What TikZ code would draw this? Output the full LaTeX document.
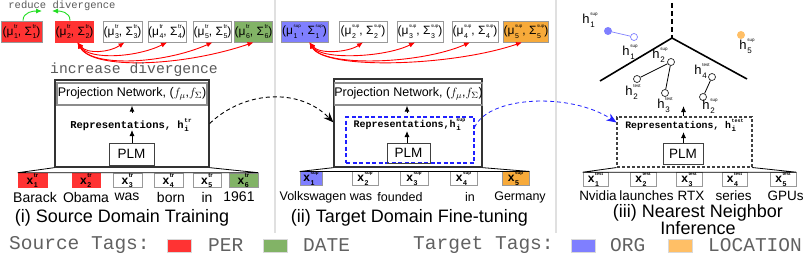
\documentclass[tikz,border=0pt]{standalone}
\usepackage{fontspec}
\usepackage{amsmath}
\setmainfont{Liberation Sans}
\setmonofont{Liberation Mono}
\usetikzlibrary{arrows.meta}
\definecolor{cRed}{HTML}{FF3333}
\definecolor{cGreen}{HTML}{82B366}
\definecolor{cBlue}{HTML}{7F7FFF}
\definecolor{cOrange}{HTML}{FFBF66}
\definecolor{cOrangeTop}{HTML}{F7AA3A}
\definecolor{cArrGreen}{HTML}{22DD22}
\definecolor{cArrBlue}{HTML}{2020FF}
\newcommand{\fs}[1]{\fontsize{#1}{#1}\selectfont}
\newcommand{\ps}[4]{{\dimen2=0.6em \dimen4=0.3em
 \setbox0=\hbox{\fs{#1}#2}\setbox2=\hbox{\fs{#3}#4}%
 \ifdim\wd0>\wd2 \dimen0=\wd0 \else \dimen0=\wd2 \fi
 \kern0.6pt\hbox to \dimen0{\rlap{\raise\dimen2\box0}\lower\dimen4\box2\hss}}}
\begin{document}
\begin{tikzpicture}[x=1pt,y=-1pt,
  topbox/.style={draw=gray!80, line width=0.8pt, inner sep=0pt, minimum height=21pt, font=\fs{12}},
  tok/.style={draw=gray!80, line width=0.8pt, inner sep=0pt, font=\fs{12}\bfseries},
  word/.style={inner sep=0pt, font=\fs{14}},
  capt/.style={inner sep=0pt, font=\fs{18}, align=center},
  rep/.style={inner sep=0pt, font=\ttfamily\bfseries},
  plmbox/.style={draw=black!75, line width=0.8pt, inner sep=0pt, font=\fs{13.5}},
  outerbox/.style={draw=black!80, line width=1.3pt, inner sep=0pt},
  projbox/.style={draw=gray!90, line width=1.3pt, inner sep=0pt, font=\fs{12.5}},
  arr/.style={-{Latex[length=6pt,width=5pt]}, line width=0.9pt},
  redarr/.style={red, line width=0.9pt, {Latex[length=6pt,width=5pt]}-{Latex[length=6pt,width=5pt]}},
  greenarr/.style={cArrGreen, line width=0.9pt, -{Latex[length=6pt,width=5pt]}},
  bigdash/.style={line width=0.9pt, dash pattern=on 4pt off 3pt, -{Stealth[length=10pt,width=8pt]}},
  note/.style={inner sep=0pt, font=\ttfamily, text=black!65},
  leg/.style={inner sep=0pt, anchor=west, font=\fs{19.5}\ttfamily, text=black!62},
  legbox/.style={draw=black!15, line width=0.6pt, minimum width=24pt, minimum height=13pt, inner sep=0pt},
  oc/.style={circle, draw=black!85, fill=white, inner sep=0pt, minimum size=7pt, line width=0.7pt},
  fc/.style={circle, inner sep=0pt, minimum size=8pt},
  hl/.style={inner sep=0pt, font=\fs{13}},
  divider/.style={draw=black!12, line width=1.3pt}
]
\useasboundingbox (0,0) rectangle (805,262);

% dividers
\coordinate (d1t) at (275,0); \coordinate (d1b) at (275,233);
\coordinate (d2t) at (556,0); \coordinate (d2b) at (556,233);
\draw[divider] (d1t) -- (d1b);
\draw[divider] (d2t) -- (d2b);

%%%%%%%%%%%% Panel 1
\node[note, font=\fs{10.5}\ttfamily] (red) at (62,5.5) {reduce divergence};
\node[topbox, fill=cRed, minimum width=41pt] (m1) at (21.5,31.5) {(μ\ps{6}{tr}{7}{1}, Σ\ps{6}{tr}{7}{1})};
\node[topbox, fill=cRed, draw=cRed, minimum width=37pt] (m2) at (74.5,31.5) {(μ\ps{6}{tr}{7}{2}, Σ\ps{6}{tr}{7}{2})};
\node[topbox, minimum width=39pt] (m3) at (122.5,31.5) {(μ\ps{6}{tr}{7}{3}, Σ\ps{6}{tr}{7}{3})};
\node[topbox, minimum width=36pt] (m4) at (167,31.5) {(μ\ps{6}{tr}{7}{4}, Σ\ps{6}{tr}{7}{4})};
\node[topbox, minimum width=37pt] (m5) at (212.5,31.5) {(μ\ps{6}{tr}{7}{5}, Σ\ps{6}{tr}{7}{5})};
\node[topbox, fill=cGreen, minimum width=35pt] (m6) at (253.5,31.5) {(μ\ps{6}{tr}{7}{6}, Σ\ps{6}{tr}{7}{6})};

\coordinate (g1) at (42,11);
\coordinate (g2) at (52,11);
\draw[greenarr] ([xshift=1.5pt]m1.north) .. controls +(0,-9) and +(-8,0) .. (g1);
\draw[greenarr] ([xshift=-4.5pt]m2.north) .. controls +(0,-9) and +(8,0) .. (g2);

\draw[redarr] ([xshift=3pt]m2.south) .. controls +(10,12) and +(-15,10) .. ([xshift=2pt]m3.south);
\draw[redarr] ([xshift=3pt]m2.south) .. controls +(12,18) and +(-30,15) .. (m4.south);
\draw[redarr] ([xshift=3pt]m2.south) .. controls +(14,25) and +(-50,22) .. (m5.south);
\draw[redarr] ([xshift=3pt]m2.south) .. controls +(15,28) and +(-70,24) .. (m6.south);

\node[note, font=\fs{14.7}\ttfamily] (inc) at (134,70) {increase divergence};

\node[outerbox, minimum width=154pt, minimum height=87pt] (P1) at (132,123.5) {};
\node[projbox, minimum width=150pt, minimum height=22pt] (proj1) at (132,94) {Projection Network, ($f_\mu$,$f_\Sigma$)};
\node[rep, font=\fs{10.5}\ttfamily\bfseries] (rep1) at (131,125) {Representations, h\ps{6}{tr}{7.5}{i}};
\node[plmbox, minimum width=45pt, minimum height=22pt] (plm1) at (131.5,154) {PLM};
\coordinate (a1t) at (132,105);
\coordinate (a1b) at (132,113);
\draw[arr] (a1b) -- (proj1.south -| a1t);
\coordinate (a2t) at (132,130);
\draw[arr] (plm1.north -| a2t) -- (a2t);

\node[tok, fill=cRed, draw=cRed, minimum width=29pt, minimum height=13pt] (x1) at (32.5,180.5) {x\ps{6}{tr}{7}{1}};
\node[tok, fill=cRed, draw=cRed, minimum width=28pt, minimum height=13pt] (x2) at (86,180.5) {x\ps{6}{tr}{7}{2}};
\node[tok, minimum width=29pt, minimum height=13pt] (x3) at (127.5,180.5) {x\ps{6}{tr}{7}{3}};
\node[tok, minimum width=29pt, minimum height=13pt] (x4) at (168.5,180.5) {x\ps{6}{tr}{7}{4}};
\node[tok, minimum width=28pt, minimum height=13pt] (x5) at (207,180.5) {x\ps{6}{tr}{7}{5}};
\node[tok, fill=cGreen, minimum width=29pt, minimum height=13pt] (x6) at (243.5,180.5) {x\ps{6}{tr}{7}{6}};
\draw[line width=0.8pt] (P1.south west) -- (x1.north west) -- (x6.north east) -- (P1.south east);

\node[word] (w11) at (35,197) {Barack};
\node[word] (w12) at (86,197) {Obama};
\node[word] (w13) at (127,197) {was};
\node[word] (w14) at (171,197) {born};
\node[word] (w15) at (207,197) {in};
\node[word] (w16) at (239,197) {1961};
\node[capt] (cap1) at (122,218) {(i) Source Domain Training};

%%%%%%%%%%%% Panel 2
\node[topbox, fill=cBlue, minimum width=47pt] (s1) at (304.5,31.5) {(μ\ps{4.5}{sup}{7}{1}, Σ\ps{4.5}{sup}{7}{1})};
\node[topbox, minimum width=48pt] (s2) at (363,31.5) {(μ\ps{4.5}{sup}{7}{2}, Σ\ps{4.5}{sup}{7}{2})};
\node[topbox, minimum width=46pt] (s3) at (420,31.5) {(μ\ps{4.5}{sup}{7}{3}, Σ\ps{4.5}{sup}{7}{3})};
\node[topbox, minimum width=46pt] (s4) at (475,31.5) {(μ\ps{4.5}{sup}{7}{4}, Σ\ps{4.5}{sup}{7}{4})};
\node[topbox, fill=cOrangeTop, minimum width=44pt] (s5) at (526,31.5) {(μ\ps{4.5}{sup}{7}{5}, Σ\ps{4.5}{sup}{7}{5})};

\draw[redarr] ([xshift=5pt]s1.south) .. controls +(10,12) and +(-15,10) .. (s2.south);
\draw[redarr] ([xshift=5pt]s1.south) .. controls +(12,18) and +(-30,15) .. ([xshift=-5pt]s3.south);
\draw[redarr] ([xshift=5pt]s1.south) .. controls +(14,25) and +(-50,22) .. ([xshift=-5pt]s4.south);
\draw[redarr] ([xshift=5pt]s1.south) .. controls +(15,28) and +(-70,24) .. ([xshift=-4pt]s5.south);

\node[outerbox, minimum width=148pt, minimum height=88pt] (P2) at (408,123) {};
\node[projbox, minimum width=143pt, minimum height=22pt] (proj2) at (408.5,94) {Projection Network, ($f_\mu$,$f_\Sigma$)};
\node[draw=cArrBlue, line width=1.1pt, dash pattern=on 4pt off 2.5pt, minimum width=128pt, minimum height=46pt, inner sep=0pt] (bd) at (410,140) {};
\node[rep, font=\fs{10}\ttfamily\bfseries] (rep2) at (409.5,125) {Representations,h\ps{5}{sup}{7.5}{i}};
\node[plmbox, minimum width=43pt, minimum height=20pt] (plm2) at (408.5,153) {PLM};
\coordinate (b1t) at (407,105);
\coordinate (b1b) at (407,113);
\draw[arr] (b1b) -- (proj2.south -| b1t);
\coordinate (b2t) at (407,131);
\draw[arr] (plm2.north -| b2t) -- (b2t);

\node[tok, fill=cBlue, minimum width=22pt, minimum height=11pt] (y1) at (311,178.5) {x\ps{4.5}{sup}{7}{1}};
\node[tok, minimum width=26pt, minimum height=11pt] (y2) at (365,178.5) {x\ps{4.5}{sup}{7}{2}};
\node[tok, minimum width=28pt, minimum height=11pt] (y3) at (414,178.5) {x\ps{4.5}{sup}{7}{3}};
\node[tok, minimum width=27pt, minimum height=11pt] (y4) at (463.5,178.5) {x\ps{4.5}{sup}{7}{4}};
\node[tok, fill=cOrangeTop, minimum width=27pt, minimum height=11pt] (y5) at (515.5,178.5) {x\ps{4.5}{sup}{7}{5}};
\draw[line width=0.8pt] (P2.south west) -- (y1.north west) -- (y5.north east) -- (P2.south east);

\node[word, font=\fs{12.5}] (w21) at (313,197) {Volkswagen};
\node[word, font=\fs{12.5}] (w22) at (361,197) {was};
\node[word, font=\fs{12.5}] (w23) at (400,197) {founded};
\node[word, font=\fs{12.5}] (w24) at (470,197) {in};
\node[word, font=\fs{12.5}] (w25) at (520,197) {Germany};
\node[capt] (cap2) at (409.5,218) {(ii) Target Domain Fine-tuning};

\draw[bigdash] (P1.east) .. controls (245,90) and (300,88) .. ([yshift=-44pt]P2.north west);

%%%%%%%%%%%% Panel 3
\node[draw=black!75, line width=1.1pt, dash pattern=on 3pt off 2pt, minimum width=135pt, minimum height=50pt, inner sep=0pt] (P3) at (684.5,142) {};
\node[rep, font=\fs{9.8}\ttfamily\bfseries] (rep3) at (684.5,125) {Representations, h\ps{5}{test}{7.5}{i}};
\node[plmbox, minimum width=40pt, minimum height=21pt] (plm3) at (683,153.5) {PLM};
\coordinate (c2t) at (683.5,132);
\draw[arr] (plm3.north -| c2t) -- (c2t);
\coordinate (emb) at (683.5,106);
\draw[arr] (P3.north -| emb) -- (emb);

\node[tok, minimum width=25pt, minimum height=13pt] (z1) at (595.5,179.5) {x\ps{4.5}{test}{7}{1}};
\node[tok, minimum width=26pt, minimum height=13pt] (z2) at (643,179.5) {x\ps{4.5}{test}{7}{2}};
\node[tok, minimum width=26pt, minimum height=13pt] (z3) at (689,179.5) {x\ps{4.5}{test}{7}{3}};
\node[tok, minimum width=25pt, minimum height=13pt] (z4) at (734.5,179.5) {x\ps{4.5}{test}{7}{4}};
\node[tok, minimum width=26pt, minimum height=13pt] (z5) at (783,179.5) {x\ps{4.5}{test}{7}{5}};
\draw[line width=0.8pt] (P3.south west) -- (z1.north west) -- (z5.north east) -- (P3.south east);

\node[word, font=\fs{13.5}] (w31) at (598,196) {Nvidia};
\node[word, font=\fs{13.5}] (w32) at (646.5,196) {launches};
\node[word, font=\fs{13.5}] (w33) at (691,196) {RTX};
\node[word, font=\fs{13.5}] (w34) at (733.5,196) {series};
\node[word, font=\fs{13.5}] (w35) at (785.5,196) {GPUs};
\node[capt, font=\fontsize{18}{14.5}\selectfont] (cap3) at (698,219.5) {(iii) Nearest Neighbor\\Inference};

\draw[line width=0.8pt, dash pattern=on 4pt off 3pt, draw=cArrBlue, -{Stealth[length=10pt,width=8pt]}] ([yshift=-11pt]bd.north east) .. controls (488,96) and (570,92) .. ([yshift=-6pt]P3.north west);

% embedding space
\coordinate (vt) at (672,3);
\coordinate (apex) at (672,38);
\coordinate (le) at (600,81);
\coordinate (re) at (747,79);
\draw[line width=1.3pt, dash pattern=on 5pt off 3pt] (vt) -- (apex);
\draw[line width=1.6pt] (le) -- (apex) -- (re);

\node[fc, fill=cBlue] (p1) at (608,31) {};
\node[oc, draw=cBlue] (p2) at (634,37) {};
\draw[cBlue, line width=0.7pt] (p1) -- (p2);
\node[oc] (q0) at (671,62) {};
\node[oc] (q1) at (637,79) {};
\node[oc] (q2) at (665,93) {};
\draw[line width=0.8pt] (q0) -- (q1);
\draw[line width=0.8pt] (q0) -- (q2);
\node[oc] (r0) at (712,77) {};
\node[oc] (r1) at (703,97) {};
\draw[line width=0.8pt] (r0) -- (r1);
\node[fc, fill=cOrange] (o1) at (741,35) {};

\node[hl] (l1) at (590,20) {h\ps{4.5}{sup}{8}{1}};
\node[hl] (l2) at (630,52) {h\ps{4.5}{sup}{8}{1}};
\node[hl] (l3) at (660,55) {h\ps{4.5}{sup}{8}{2}};
\node[hl] (l4) at (633,92) {h\ps{4.5}{test}{8}{2}};
\node[hl] (l5) at (665,105) {h\ps{4.5}{test}{8}{3}};
\node[hl] (l6) at (702,71) {h\ps{4.5}{test}{8}{4}};
\node[hl] (l7) at (710,106) {h\ps{4.5}{sup}{8}{2}};
\node[hl] (l8) at (747,46) {h\ps{4.5}{sup}{8}{5}};

%%%%%%%%%%%% Legend
\node[leg] (st) at (9,245) {Source Tags:};
\node[legbox, fill=cRed] (lr) at (179.5,245.5) {};
\node[leg] (lper) at (208,245) {PER};
\node[legbox, fill=cGreen] (lg) at (275,245.5) {};
\node[leg] (ldate) at (303,245) {DATE};
\node[leg] (tt) at (413,245) {Target Tags:};
\node[legbox, fill=cBlue] (lb) at (583,245.5) {};
\node[leg] (lorg) at (610,245) {ORG};
\node[legbox, fill=cOrange] (lo) at (680.5,245.5) {};
\node[leg] (lloc) at (708,245) {LOCATION};
\end{tikzpicture}
\end{document}
